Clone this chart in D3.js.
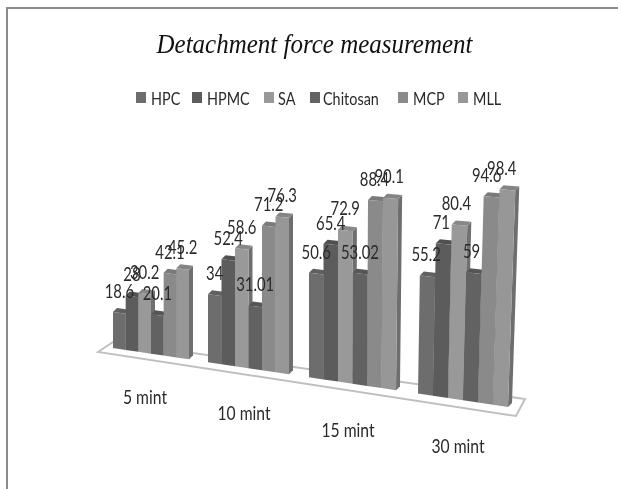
<!DOCTYPE html>
<html><head><meta charset="utf-8"><script src="https://cdn.jsdelivr.net/npm/d3@7"></script>
<style>html,body{margin:0;padding:0;background:#fff}svg{display:block;filter:blur(0.45px)}</style></head>
<body><svg id="c" width="618" height="489"></svg>
<script>
const title = "Detachment force measurement";
const categories = ["5 mint","10 mint","15 mint","30 mint"];
const seriesNames = ["HPC","HPMC","SA","Chitosan","MCP","MLL"];
const seriesColors = ["#6d6d6d","#5c5c5c","#999999","#626262","#8a8a8a","#979797"];
const HPC = [18.6,34,50.6,55.2];
const HPMC = [28,52.4,65.4,71];
const SA = [30.2,58.6,72.9,80.4];
const Chitosan = [20.1,31.01,53.02,59];
const MCP = [42.1,71.2,88.4,94.6];
const MLL = [45.2,76.3,90.1,98.4];
const series = [HPC,HPMC,SA,Chitosan,MCP,MLL];

const svg = d3.select("#c");
const slot = 7.5;
const xS = d3.scaleLinear().domain([0,6,7.5,13.5,15,21,22.5,28.5]).range([113,189,208,289,309,396,418,508]);
const floorY = d3.scaleLinear().domain([113,508]).range([348,407]);
const unit = d3.scaleLinear().domain([113,508]).range([1.93,2.2]);
const lean = x => Math.max(0,x-340)*0.0002;
const topPt = (x,v)=>{const h=v*unit(x);return [x+lean(x)*h,floorY(x)-h];};
const shade = (c,k)=>d3.color(c).darker(k).formatHex();

// frame
svg.append("path").attr("d","M7,489V8H618").attr("fill","none").attr("stroke","#8c8c8c").attr("stroke-width",2);

// title
svg.append("text").attr("x",0).attr("y",0).attr("text-anchor","middle")
 .attr("transform","translate(314.5,53) scale(1,1.1)")
 .attr("font-family","'Liberation Serif',serif").attr("font-style","italic").attr("font-size",25).attr("fill","#111").text(title);

// legend
const legX = [136,192,264,310,398,458];
const legTextX = [151,207,278,323,413,473];
const font = "Lato,'Liberation Sans',sans-serif";
seriesNames.forEach((n,i)=>{
  svg.append("rect").attr("x",legX[i]).attr("y",92).attr("width",10).attr("height",11).attr("fill",seriesColors[i]);
  svg.append("text").attr("transform",`translate(${legTextX[i]},105) scale(1.03,1.3)`)
    .attr("font-family",font).attr("font-size",14).attr("fill","#2a2a2a").text(n);
});

// floor
const fl = [[98,352],[113,342],[525,399],[516,416]];
svg.append("path").attr("d",d3.line()(fl)+"Z").attr("fill","#fff").attr("stroke","#c0c0c0").attr("stroke-width",2);

// bars
categories.forEach((cat,g)=>{
  series.forEach((vals,s)=>{
    const v=vals[g], u=g*slot+s, x0=xS(u), x1=xS(u+1), c=seriesColors[s];
    const a=topPt(x0,v), b=topPt(x1,v);
    const dx=4, dy=4;
    svg.append("path").attr("d",d3.line()([b,[b[0]+dx,b[1]-dy],[x1+dx,floorY(x1)-dy],[x1,floorY(x1)]])+"Z").attr("fill",shade(c,0.9));
    svg.append("path").attr("d",d3.line()([a,[a[0]+dx,a[1]-dy],[b[0]+dx,b[1]-dy],b])+"Z").attr("fill",shade(c,0.35));
    svg.append("path").attr("d",d3.line()([[x0,floorY(x0)],a,b,[x1,floorY(x1)]])+"Z").attr("fill",c);
  });
});

// value labels: centred over their own bar, as in the reference (they overlap there too)
categories.forEach((cat,g)=>{
  series.forEach((vals,s)=>{
    const v=vals[g], u=g*slot+s, x=xS(u+0.5), p=topPt(x,v);
    svg.append("text").attr("text-anchor","middle")
      .attr("font-family",font).attr("font-size",16).attr("fill","#2a2a2a")
      .attr("transform",`translate(${x+lean(x)*40},${p[1]-15}) scale(0.93,1.22)`).text(v);
  });
  const cx = d3.scaleLinear().domain([0,1,2,3]).range([145,244,348,458])(g);
  const cy = d3.scaleLinear().domain([0,3]).range([404,453])(g);
  svg.append("text").attr("text-anchor","middle")
    .attr("font-family",font).attr("font-size",16).attr("fill","#2a2a2a")
    .attr("transform",`translate(${cx},${cy}) scale(0.98,1.22)`).text(cat);
});
</script></body></html>
